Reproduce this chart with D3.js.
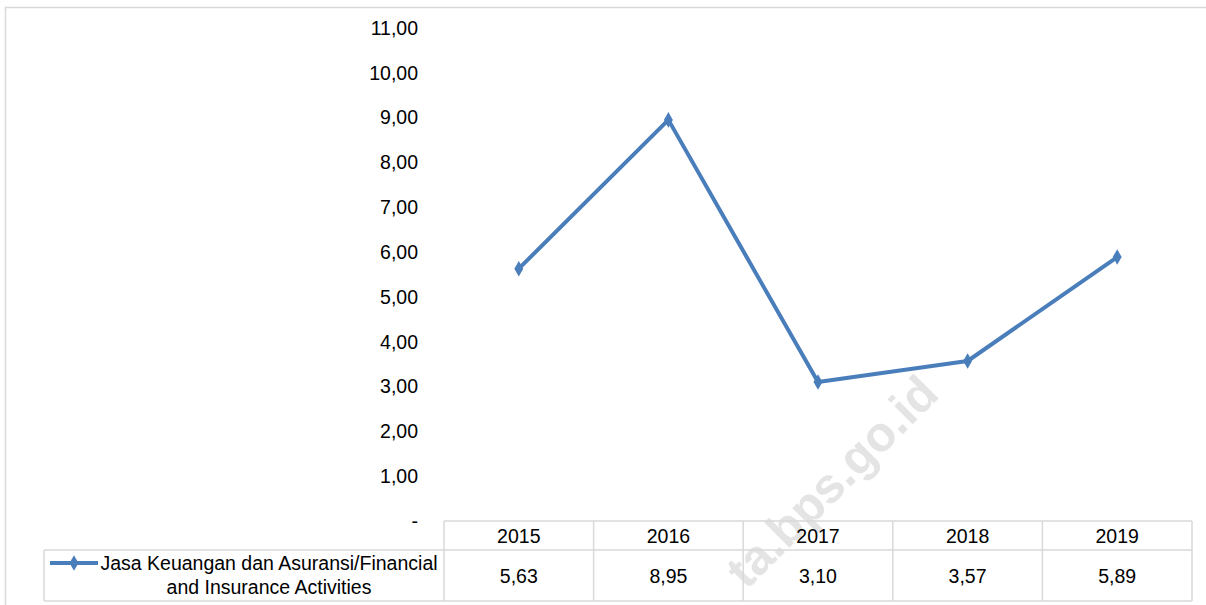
<!DOCTYPE html>
<html>
<head>
<meta charset="utf-8">
<script src="https://cdn.jsdelivr.net/npm/d3@7"></script>
<style>
  body { margin: 0; background: #fff; }
  svg { display: block; font-family: Arial, "Liberation Sans", sans-serif; }
</style>
</head>
<body>
<div id="chart"></div>
<script>
const years = ['2015', '2016', '2017', '2018', '2019'];
const values = [5.63, 8.95, 3.10, 3.57, 5.89];
const yTicks = [0, 1, 2, 3, 4, 5, 6, 7, 8, 9, 10, 11];
const seriesName = ['Jasa Keuangan dan Asuransi/Financial', 'and Insurance Activities'];

const W = 1206, H = 605;
const color = '#4a7ebb';
const gridColor = '#d9d9d9';
const fs = 19.5;

const svg = d3.select('#chart').append('svg')
  .attr('width', W)
  .attr('height', H);

// outer frame
svg.append('rect')
  .attr('x', 5.5).attr('y', 7.5)
  .attr('width', W + 10).attr('height', H)
  .attr('fill', 'none')
  .attr('stroke', gridColor)
  .attr('stroke-width', 1.5);

const plotLeft = 444, plotRight = 1192;
const x = d3.scaleBand().domain(years).range([plotLeft, plotRight]);
const y = d3.scaleLinear().domain([0, 11]).range([521, 28]);

// watermark
svg.append('text')
  .attr('transform', 'translate(941,396) rotate(-45)')
  .attr('text-anchor', 'end')
  .attr('font-size', 49)
  .attr('font-weight', 'bold')
  .attr('fill', '#e4e4e4')
  .text('ta.bps.go.id');

// y axis labels
const fmt = v => v === 0 ? '-' : d3.format('.2f')(v).replace('.', ',');
svg.append('g')
  .selectAll('text')
  .data(yTicks)
  .join('text')
  .attr('x', 418)
  .attr('y', d => y(d))
  .attr('dy', '0.35em')
  .attr('text-anchor', 'end')
  .attr('font-size', fs)
  .attr('fill', '#000')
  .text(fmt);

// data table
const rowTop = 521, rowMid = 550, rowBot = 601, legendLeft = 44;
const table = svg.append('g')
  .attr('stroke', gridColor)
  .attr('stroke-width', 1.5)
  .attr('fill', 'none');

table.append('line').attr('x1', plotLeft).attr('x2', plotRight).attr('y1', rowTop).attr('y2', rowTop);
table.append('line').attr('x1', legendLeft).attr('x2', plotRight).attr('y1', rowMid).attr('y2', rowMid);
table.append('line').attr('x1', legendLeft).attr('x2', plotRight).attr('y1', rowBot).attr('y2', rowBot);
table.append('line').attr('x1', legendLeft).attr('x2', legendLeft).attr('y1', rowMid).attr('y2', rowBot);
table.selectAll('.vline')
  .data(years.concat(['end']))
  .join('line')
  .attr('x1', (d, i) => plotLeft + i * x.bandwidth())
  .attr('x2', (d, i) => plotLeft + i * x.bandwidth())
  .attr('y1', rowTop).attr('y2', rowBot);

svg.append('g')
  .selectAll('text')
  .data(years)
  .join('text')
  .attr('x', d => x(d) + x.bandwidth() / 2)
  .attr('y', (rowTop + rowMid) / 2)
  .attr('dy', '0.36em')
  .attr('text-anchor', 'middle')
  .attr('font-size', fs)
  .text(d => d);

svg.append('g')
  .selectAll('text')
  .data(values)
  .join('text')
  .attr('x', (d, i) => x(years[i]) + x.bandwidth() / 2)
  .attr('y', (rowMid + rowBot) / 2)
  .attr('dy', '0.36em')
  .attr('text-anchor', 'middle')
  .attr('font-size', fs)
  .text(d => d3.format('.2f')(d).replace('.', ','));

// legend key
const keyY = 563;
svg.append('line')
  .attr('x1', 50).attr('x2', 98)
  .attr('y1', keyY).attr('y2', keyY)
  .attr('stroke', color).attr('stroke-width', 4);
svg.append('path')
  .attr('d', d3.symbol(d3.symbolDiamond, 70)())
  .attr('transform', `translate(74,${keyY})`)
  .attr('fill', color);

svg.append('g')
  .selectAll('text')
  .data(seriesName)
  .join('text')
  .attr('x', 269)
  .attr('y', (d, i) => keyY + i * 24)
  .attr('dy', '0.36em')
  .attr('text-anchor', 'middle')
  .attr('font-size', fs)
  .text(d => d);

// series line
const line = d3.line()
  .x((d, i) => x(years[i]) + x.bandwidth() / 2)
  .y(d => y(d));

svg.append('path')
  .datum(values)
  .attr('d', line)
  .attr('fill', 'none')
  .attr('stroke', color)
  .attr('stroke-width', 4)
  .attr('stroke-linejoin', 'round');

svg.append('g')
  .selectAll('path')
  .data(values)
  .join('path')
  .attr('d', d3.symbol(d3.symbolDiamond, 70)())
  .attr('transform', (d, i) => `translate(${x(years[i]) + x.bandwidth() / 2},${y(d)})`)
  .attr('fill', color);
</script>
</body>
</html>
